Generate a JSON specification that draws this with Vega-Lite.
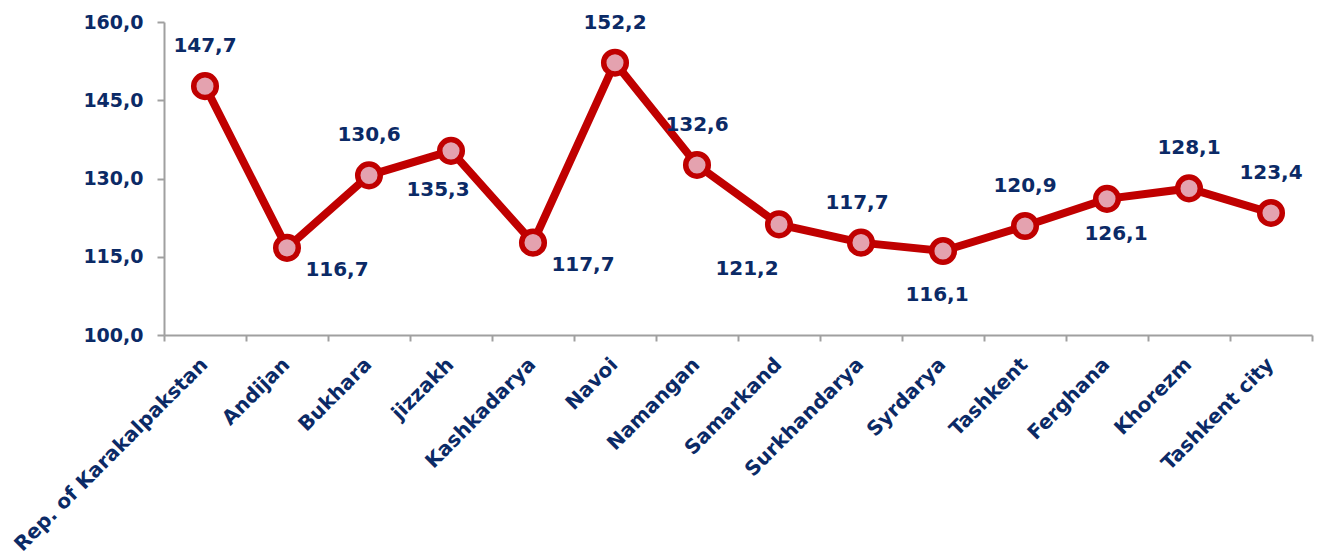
{
  "$schema": "https://vega.github.io/schema/vega-lite/v6.json",
  "width": 1148,
  "height": 313,
  "autosize": {"type": "none"},
  "padding": {"left": 164, "top": 22, "right": 6, "bottom": 220},
  "background": "white",
  "config": {
    "view": {"stroke": null},
    "locale": {"number": {"decimal": ",", "thousands": ".", "grouping": [3], "currency": ["", ""]}},
    "font": "DejaVu Sans"
  },
  "data": {
    "values": [
      {"region": "Rep. of Karakalpakstan", "value": 147.7},
      {"region": "Andijan", "value": 116.7},
      {"region": "Bukhara", "value": 130.6},
      {"region": "jizzakh", "value": 135.3},
      {"region": "Kashkadarya", "value": 117.7},
      {"region": "Navoi", "value": 152.2},
      {"region": "Namangan", "value": 132.6},
      {"region": "Samarkand", "value": 121.2},
      {"region": "Surkhandarya", "value": 117.7},
      {"region": "Syrdarya", "value": 116.1},
      {"region": "Tashkent", "value": 120.9},
      {"region": "Ferghana", "value": 126.1},
      {"region": "Khorezm", "value": 128.1},
      {"region": "Tashkent city", "value": 123.4}
    ]
  },
  "encoding": {
    "x": {
      "field": "region", "type": "nominal", "sort": null,
      "scale": {"paddingInner": 0, "paddingOuter": 0},
      "axis": {
        "title": null, "labelAngle": -45, "labelFont": "DejaVu Sans", "labelFontWeight": "bold",
        "labelFontSize": 20, "labelColor": "#0B2A66", "domainColor": "#A0A0A0", "domainWidth": 2,
        "tickColor": "#A0A0A0", "tickWidth": 2, "tickSize": 6, "tickBand": "extent",
        "labelPadding": 13, "labelOffset": -8, "grid": false, "labelOverlap": false, "labelLimit": 0
      }
    },
    "y": {
      "field": "value", "type": "quantitative",
      "scale": {"domain": [100, 160], "nice": false, "zero": false},
      "axis": {
        "title": null, "values": [100, 115, 130, 145, 160], "format": ".1f",
        "labelFont": "DejaVu Sans", "labelFontWeight": "bold", "labelFontSize": 19,
        "labelColor": "#0B2A66", "domainColor": "#A0A0A0", "domainWidth": 2,
        "tickColor": "#A0A0A0", "tickWidth": 2, "tickSize": 7, "labelPadding": 14, "grid": false
      }
    }
  },
  "layer": [
    {"mark": {"type": "line", "color": "#C00000", "strokeWidth": 8}},
    {"mark": {"type": "point", "filled": true, "fill": "#E4A2AF", "stroke": "#C00000", "strokeWidth": 5.5, "size": 510, "opacity": 1}},
    {
      "transform": [{"filter": {"field": "region", "oneOf": ["Rep. of Karakalpakstan", "Bukhara", "Navoi", "Namangan", "Tashkent", "Khorezm", "Tashkent city"]}}],
      "mark": {"type": "text", "dy": -40, "fontSize": 20, "fontWeight": "bold", "color": "#0B2A66", "font": "DejaVu Sans"},
      "encoding": {"text": {"field": "value", "type": "quantitative", "format": ".1f"}}
    },
    {
      "transform": [{"filter": {"field": "region", "oneOf": ["Surkhandarya"]}}],
      "mark": {"type": "text", "dx": -4, "dy": -40, "fontSize": 20, "fontWeight": "bold", "color": "#0B2A66", "font": "DejaVu Sans"},
      "encoding": {"text": {"field": "value", "type": "quantitative", "format": ".1f"}}
    },
    {
      "transform": [{"filter": {"field": "region", "oneOf": ["Andijan", "Kashkadarya"]}}],
      "mark": {"type": "text", "dx": 50, "dy": 22, "fontSize": 20, "fontWeight": "bold", "color": "#0B2A66", "font": "DejaVu Sans"},
      "encoding": {"text": {"field": "value", "type": "quantitative", "format": ".1f"}}
    },
    {
      "transform": [{"filter": {"field": "region", "oneOf": ["jizzakh"]}}],
      "mark": {"type": "text", "dx": -13, "dy": 39, "fontSize": 20, "fontWeight": "bold", "color": "#0B2A66", "font": "DejaVu Sans"},
      "encoding": {"text": {"field": "value", "type": "quantitative", "format": ".1f"}}
    },
    {
      "transform": [{"filter": {"field": "region", "oneOf": ["Samarkand"]}}],
      "mark": {"type": "text", "dx": -32, "dy": 45, "fontSize": 20, "fontWeight": "bold", "color": "#0B2A66", "font": "DejaVu Sans"},
      "encoding": {"text": {"field": "value", "type": "quantitative", "format": ".1f"}}
    },
    {
      "transform": [{"filter": {"field": "region", "oneOf": ["Syrdarya"]}}],
      "mark": {"type": "text", "dx": -6, "dy": 44, "fontSize": 20, "fontWeight": "bold", "color": "#0B2A66", "font": "DejaVu Sans"},
      "encoding": {"text": {"field": "value", "type": "quantitative", "format": ".1f"}}
    },
    {
      "transform": [{"filter": {"field": "region", "oneOf": ["Ferghana"]}}],
      "mark": {"type": "text", "dx": 9, "dy": 35, "fontSize": 20, "fontWeight": "bold", "color": "#0B2A66", "font": "DejaVu Sans"},
      "encoding": {"text": {"field": "value", "type": "quantitative", "format": ".1f"}}
    }
  ]
}
